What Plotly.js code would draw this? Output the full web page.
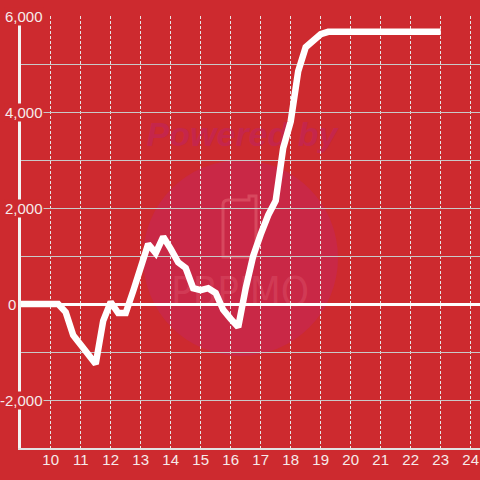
<!DOCTYPE html>
<html><head><meta charset="utf-8">
<script src="https://cdn.plot.ly/plotly-3.0.1.min.js"></script>
<style>html,body{margin:0;padding:0;background:#cd2a2f}</style>
</head><body><div id="chart" style="width:480px;height:480px"></div>
<script>
const hours = [9, 10.25, 10.5, 10.75, 11, 11.25, 11.5, 11.75, 12, 12.25, 12.5, 12.75, 13, 13.25, 13.5, 13.75, 14, 14.25, 14.5, 14.75, 15, 15.25, 15.5, 15.75, 16, 16.25, 16.5, 16.75, 17, 17.25, 17.5, 17.75, 18, 18.25, 18.5, 18.75, 19, 19.25, 23];
const profit = [0, 0, -170, -650, -850, -1080, -1250, -350, 40, -190, -190, 270, 770, 1250, 1060, 1400, 1150, 870, 750, 330, 290, 330, 230, -120, -310, -480, 330, 1000, 1450, 1850, 2150, 3250, 3800, 4850, 5350, 5500, 5620, 5670, 5670];
const xTickVals = [10, 11, 12, 13, 14, 15, 16, 17, 18, 19, 20, 21, 22, 23, 24];
const xTickText = ['10', '11', '12', '13', '14', '15', '16', '17', '18', '19', '20', '21', '22', '23', '24'];
const yLabelVals = [6000, 4000, 2000, 0, -2000];
const yLabelText = ['6,000', '4,000', '2,000', '0', '-2,000'];

const BG = '#cd2a2f';
const L = 21, T = 16, W = 459, H = 432;
const px = v => (v - L) / W;
const py = v => (T + H - v) / H;

const annotations = yLabelVals.map((v, i) => ({
  xref: 'paper', yref: 'y', x: v === 0 ? px(17) : px(44), y: v,
  xanchor: 'right', yanchor: 'middle', showarrow: false,
  text: yLabelText[i], bgcolor: v === 0 ? 'rgba(0,0,0,0)' : BG, borderpad: 0,
  font: {family: 'Liberation Sans, Arial, sans-serif', size: 15, color: '#f6eaea'}
}));

const shapes = [
  {type: 'circle', xref: 'paper', yref: 'paper', x0: px(143), x1: px(338), y0: py(356), y1: py(160),
   fillcolor: '#c92846', line: {width: 0}, layer: 'below'},
  {type: 'rect', xref: 'paper', yref: 'paper', x0: px(142), x1: px(342), y0: py(152), y1: py(110),
   line: {width: 0}, fillcolor: 'rgba(0,0,0,0)', layer: 'below',
   label: {text: 'Powered by', textposition: 'middle center',
     font: {family: 'Liberation Sans, Arial, sans-serif', size: 34, weight: 'bold', style: 'italic', color: '#c5264b'}}},
  {type: 'path', xref: 'paper', yref: 'paper', layer: 'below',
   path: `M ${px(223)},${py(205)} Q ${px(223)},${py(200)} ${px(228)},${py(200)} L ${px(249)},${py(200)} L ${px(249)},${py(196)} L ${px(256)},${py(196)} L ${px(256)},${py(257)} L ${px(223)},${py(257)} Z`,
   line: {color: 'rgba(232,110,125,0.45)', width: 3}, fillcolor: 'rgba(0,0,0,0)'},
  {type: 'rect', xref: 'paper', yref: 'paper', x0: px(168), x1: px(312), y0: py(308), y1: py(270),
   line: {width: 0}, fillcolor: 'rgba(0,0,0,0)', layer: 'below',
   label: {text: 'PBPIMO', textposition: 'middle center',
     font: {family: 'DejaVu Sans Condensed, DejaVu Sans, sans-serif', size: 40, color: 'rgba(225,95,115,0.35)'}}}
];

const trace = {
  x: hours, y: profit, type: 'scatter', mode: 'lines',
  line: {color: '#ffffff', width: 6.5, shape: 'linear'}, hoverinfo: 'none'
};

const layout = {
  width: 480, height: 480,
  margin: {l: L, r: 0, t: T, b: 480 - T - H, pad: 0},
  paper_bgcolor: BG, plot_bgcolor: BG,
  showlegend: false,
  xaxis: {
    range: [9.01, 24.31], tickmode: 'array', tickvals: xTickVals, ticktext: xTickText,
    showgrid: true, gridcolor: '#e6e6e6', griddash: '3px,2px', gridwidth: 1,
    zeroline: false, showline: true, linecolor: '#e2e2e2', linewidth: 2,
    ticks: '', ticklabelstandoff: -3,
    tickfont: {family: 'Liberation Sans, Arial, sans-serif', size: 15, color: '#f6eaea'},
    fixedrange: true
  },
  yaxis: {
    range: [-3000, 6000], dtick: 1000, tick0: 0, showticklabels: false,
    showgrid: true, gridcolor: '#c9c9c9', gridwidth: 1,
    zeroline: true, zerolinecolor: '#ffffff', zerolinewidth: 3,
    showline: true, linecolor: '#f4f4f4', linewidth: 3, ticks: '',
    fixedrange: true
  },
  shapes: shapes,
  annotations: annotations
};

Plotly.newPlot('chart', [trace], layout, {displayModeBar: false, staticPlot: true});
</script>
</body></html>
